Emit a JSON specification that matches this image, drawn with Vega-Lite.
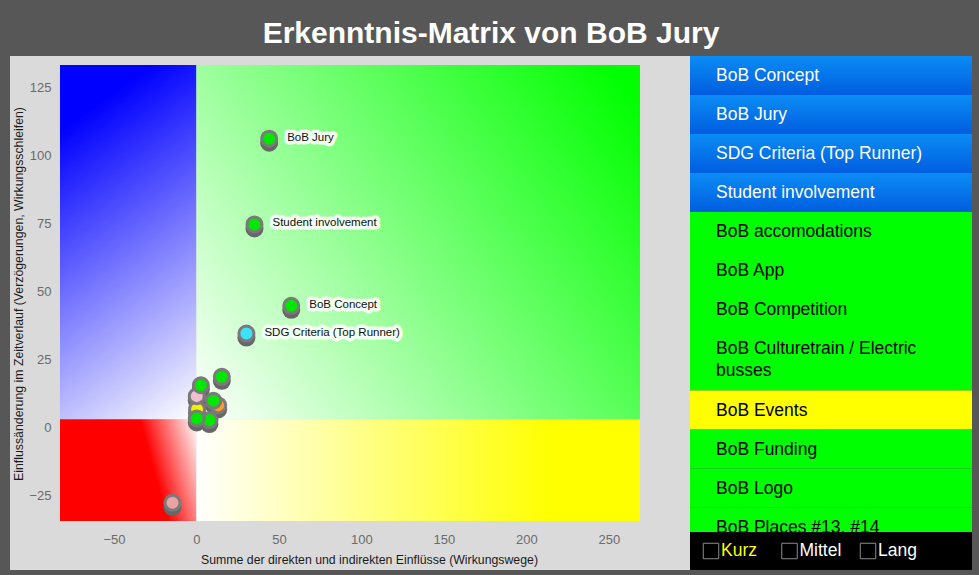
{
  "$schema": "https://vega.github.io/schema/vega-lite/v6.json",
  "background": "#575757",
  "padding": {"left": 10, "right": 7, "top": 19, "bottom": 5},
  "title": {
    "text": "Erkenntnis-Matrix von BoB Jury",
    "fontSize": 30,
    "fontWeight": "bold",
    "font": "Liberation Sans",
    "color": "#ffffff",
    "anchor": "middle",
    "offset": 7
  },
  "config": {"font": "Liberation Sans", "view": {"stroke": null}},
  "datasets": {
    "quadranten": [
      {"quadrant": "blau", "x": -82.7, "x2": 0, "y": 3.1, "y2": 133.3},
      {"quadrant": "grün", "x": 0, "x2": 268.9, "y": 3.1, "y2": 133.3},
      {"quadrant": "rot", "x": -82.7, "x2": 0, "y": -34.3, "y2": 3.1},
      {"quadrant": "gelb", "x": 0, "x2": 268.9, "y": -34.3, "y2": 3.1}
    ],
    "punkte": [
      {"x": -14.5, "y": -27.6, "kategorie": "blass"},
      {"x": 13.2, "y": 8.2, "kategorie": "orange"},
      {"x": 0.4, "y": 6.8, "kategorie": "gelb"},
      {"x": 0.2, "y": 11.6, "kategorie": "rosa"},
      {"x": 7.9, "y": 2.8, "kategorie": "grün"},
      {"x": 0.2, "y": 3.4, "kategorie": "grün"},
      {"x": 10.3, "y": 9.9, "kategorie": "grün"},
      {"x": 2.7, "y": 15.6, "kategorie": "grün"},
      {"x": 15.4, "y": 18.7, "kategorie": "grün"},
      {"x": 30.3, "y": 34.6, "kategorie": "cyan", "label": "SDG Criteria (Top Runner)"},
      {"x": 57.5, "y": 44.8, "kategorie": "grün", "label": "BoB Concept"},
      {"x": 35.2, "y": 74.7, "kategorie": "grün", "label": "Student involvement"},
      {"x": 44.1, "y": 106.2, "kategorie": "grün", "label": "BoB Jury"}
    ],
    "liste": [
      {"rang": 1, "name": "BoB Concept", "status": "blau", "span": 1},
      {"rang": 2, "name": "BoB Jury", "status": "blau", "span": 1},
      {"rang": 3, "name": "SDG Criteria (Top Runner)", "status": "blau", "span": 1},
      {"rang": 4, "name": "Student involvement", "status": "blau", "span": 1},
      {"rang": 5, "name": "BoB accomodations", "status": "grün", "span": 1},
      {"rang": 6, "name": "BoB App", "status": "grün", "span": 1},
      {"rang": 7, "name": "BoB Competition", "status": "grün", "span": 1},
      {"rang": 8, "name": "BoB Culturetrain / Electric\nbusses", "status": "grün", "span": 1.58},
      {"rang": 9, "name": "BoB Events", "status": "gelb", "span": 1},
      {"rang": 10, "name": "BoB Funding", "status": "grün", "span": 1},
      {"rang": 11, "name": "BoB Logo", "status": "grün", "span": 1},
      {"rang": 12, "name": "BoB Places #13, #14", "status": "grün", "span": 1}
    ],
    "optionen": [
      {"option": "Kurz"},
      {"option": "Mittel"},
      {"option": "Lang"}
    ]
  },
  "spacing": 0,
  "hconcat": [
    {
      "width": 680,
      "height": 514,
      "view": {"fill": "#dadada", "stroke": null},
      "encoding": {
        "x": {
          "field": "x",
          "type": "quantitative",
          "scale": {"domain": [-113.0, 299.2], "nice": false, "zero": false},
          "axis": {
            "title": "Summe der direkten und indirekten Einflüsse (Wirkungswege)",
            "values": [-50, 0, 50, 100, 150, 200, 250],
            "offset": -49,
            "domain": false,
            "ticks": false,
            "tickSize": 0,
            "grid": false,
            "labelPadding": 12,
            "labelFontSize": 13,
            "labelColor": "#6b6b6b",
            "labelFlush": false,
            "labelOverlap": false,
            "titleFontSize": 12.3,
            "titleFontWeight": "normal",
            "titleColor": "#1a1a1a",
            "titlePadding": 7,
            "titleX": 359
          }
        },
        "y": {
          "field": "y",
          "type": "quantitative",
          "scale": {"domain": [-52.3, 136.6], "nice": false, "zero": false},
          "axis": {
            "title": "Einflussänderung im Zeitverlauf (Verzögerungen, Wirkungsschleifen)",
            "values": [-25, 0, 25, 50, 75, 100, 125],
            "offset": -50,
            "domain": false,
            "ticks": false,
            "tickSize": 0,
            "grid": false,
            "labelPadding": 9,
            "labelFontSize": 13,
            "labelColor": "#6b6b6b",
            "labelFlush": false,
            "labelOverlap": false,
            "titleFontSize": 12.3,
            "titleFontWeight": "normal",
            "titleColor": "#1a1a1a",
            "titlePadding": 3,
            "titleY": 237.5
          }
        }
      },
      "layer": [
        {
          "data": {"name": "quadranten"},
          "mark": {"type": "rect", "strokeWidth": 0},
          "encoding": {
            "x2": {"field": "x2"},
            "y2": {"field": "y2"},
            "fill": {
              "condition": [
                {"test": "datum.quadrant === 'blau'", "value": {"gradient": "linear", "x1": 1, "y1": 1, "x2": 0.725, "y2": -0.012, "stops": [{"offset": 0, "color": "#ffffff"}, {"offset": 1, "color": "#0000ff"}]}},
                {"test": "datum.quadrant === 'grün'", "value": {"gradient": "linear", "x1": 0, "y1": 1, "x2": 1.138, "y2": 0.345, "stops": [{"offset": 0, "color": "#ffffff"}, {"offset": 1, "color": "#00ff00"}]}},
                {"test": "datum.quadrant === 'rot'", "value": {"gradient": "linear", "x1": 1, "y1": 0, "x2": 0.6006, "y2": 0.0832, "stops": [{"offset": 0, "color": "#ffffff"}, {"offset": 1, "color": "#ff0000"}]}}
              ],
              "value": {"gradient": "linear", "x1": 0, "y1": 0, "x2": 0.8, "y2": 0, "stops": [{"offset": 0, "color": "#ffffff"}, {"offset": 1, "color": "#ffff00"}]}
            }
          }
        },
        {
          "data": {"name": "punkte"},
          "mark": {"type": "circle", "size": 324, "color": "#676767", "opacity": 1, "yOffset": 4}
        },
        {
          "data": {"name": "punkte"},
          "mark": {"type": "circle", "size": 225, "stroke": "#7a7a7a", "strokeWidth": 3, "opacity": 1},
          "encoding": {
            "fill": {
              "field": "kategorie",
              "type": "nominal",
              "scale": {
                "domain": ["grün", "cyan", "gelb", "orange", "rosa", "blass"],
                "range": ["#00e800", "#3ae4ff", "#f2f000", "#ff9c2a", "#f0c0d0", "#e9a3a3"]
              },
              "legend": null
            }
          }
        },
        {
          "data": {"name": "punkte"},
          "transform": [{"filter": "isValid(datum.label)"}],
          "mark": {"type": "text", "align": "left", "baseline": "middle", "dx": 18, "dy": -1, "fontSize": 11.5, "stroke": "#f3fff3", "strokeWidth": 7, "strokeJoin": "round", "fill": "#f3fff3"},
          "encoding": {"text": {"field": "label"}}
        },
        {
          "data": {"name": "punkte"},
          "transform": [{"filter": "isValid(datum.label)"}],
          "mark": {"type": "text", "align": "left", "baseline": "middle", "dx": 18, "dy": -1, "fontSize": 11.5, "color": "#111111"},
          "encoding": {"text": {"field": "label"}}
        }
      ]
    },
    {
      "spacing": 0,
      "vconcat": [
        {
          "width": 282,
          "height": 476,
          "data": {"name": "liste"},
          "layer": [
            {
              "mark": {"type": "bar", "clip": true, "strokeWidth": 0},
              "encoding": {
                "x": {"datum": "Liste", "type": "nominal", "scale": {"paddingInner": 0, "paddingOuter": 0}, "axis": null},
                "y": {"field": "span", "type": "quantitative", "stack": "zero", "scale": {"domain": [0, 12.205], "reverse": true, "nice": false}, "axis": null},
                "order": {"field": "rang", "type": "quantitative"},
                "fill": {
                  "condition": [
                    {"test": "datum.status === 'blau'", "value": {"gradient": "linear", "x1": 0, "y1": 0, "x2": 0, "y2": 1, "stops": [{"offset": 0, "color": "#0b8cf5"}, {"offset": 1, "color": "#005ddf"}]}},
                    {"test": "datum.status === 'gelb'", "value": "#ffff00"}
                  ],
                  "value": "#00ff00"
                }
              }
            },
            {
              "mark": {"type": "text", "clip": true, "align": "left", "baseline": "middle", "dx": 26, "dy": 20, "fontSize": 17.5, "lineBreak": "\n", "lineHeight": 22},
              "encoding": {
                "x": {"datum": "Liste", "type": "nominal", "bandPosition": 0, "axis": null},
                "y": {"field": "span", "type": "quantitative", "stack": "zero", "bandPosition": 0, "axis": null},
                "order": {"field": "rang", "type": "quantitative"},
                "text": {"field": "name"},
                "color": {"condition": {"test": "datum.status === 'blau'", "value": "#ffffff"}, "value": "#000000"}
              }
            }
          ]
        },
        {
          "width": 282,
          "height": 38,
          "view": {"fill": "#000000", "stroke": null},
          "data": {"name": "optionen"},
          "encoding": {
            "x": {"field": "option", "type": "nominal", "sort": null, "scale": {"type": "point", "padding": 0.796, "align": 0.168}, "axis": null}
          },
          "layer": [
            {"mark": {"type": "square", "size": 240, "filled": false, "color": "#8c8c8c", "strokeWidth": 1, "opacity": 1}},
            {
              "mark": {"type": "text", "align": "left", "baseline": "middle", "dx": 10, "fontSize": 17.5},
              "encoding": {
                "text": {"field": "option"},
                "color": {"condition": {"test": "datum.option === 'Kurz'", "value": "#ffff00"}, "value": "#ffffff"}
              }
            }
          ]
        }
      ]
    }
  ]
}
